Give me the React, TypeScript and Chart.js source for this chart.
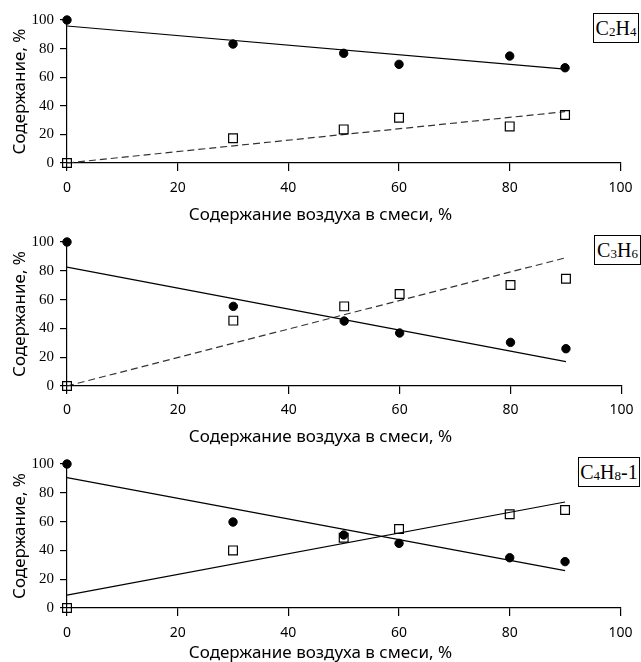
import React, { useEffect, useRef } from "react";
import { Chart, registerables } from "chart.js";

Chart.register(...registerables);

// ---- data ----
const airContent = [0, 30, 50, 60, 80, 90];
const fitX = [0, 90];
const xTickValues = [0, 20, 40, 60, 80, 100];

const c2h4Circles = [100, 83.2, 76.7, 69, 74.8, 66.6];
const c2h4Squares = [0, 17.3, 23.5, 31.7, 25.6, 33.6];
const c2h4FitCircles = [95.8, 65.7];
const c2h4FitSquares = [0, 35.9];

const c3h6Circles = [100, 55.3, 45.1, 36.8, 30.3, 25.9];
const c3h6Squares = [0, 45.4, 55.3, 63.9, 70.1, 74.5];
const c3h6FitCircles = [82.6, 16.9];
const c3h6FitSquares = [0, 89.1];

const c4h8Circles = [100, 59.7, 50.7, 44.9, 34.9, 32.2];
const c4h8Squares = [0, 40.0, 48.8, 54.9, 65.1, 68.1];
const c4h8FitCircles = [90.5, 25.9];
const c4h8FitSquares = [9.0, 73.6];

const xTitle = "Содержание воздуха в смеси, %";
const yTitle = "Содержание, %";

type PanelProps = {
  top: number;
  areaBottom: number;
  titleCenter: number;
  tickPad: number;
  circles: number[];
  squares: number[];
  fitCircles: number[];
  fitSquares: number[];
  dashed: boolean;
};

const CANVAS_W = 641;
const CANVAS_H = 230;

function Panel(p: PanelProps) {
  const ref = useRef<HTMLCanvasElement | null>(null);
  useEffect(() => {
    if (!ref.current) return;
    const titleLH = 17 * 1.2;
    const hx = p.titleCenter - titleLH / 2 - p.areaBottom;
    const padBottom = CANVAS_H - p.titleCenter - titleLH / 2;
    const pts = (xs: number[], ys: number[]) => xs.map((x, i) => ({ x, y: ys[i] }));
    const chart = new Chart(ref.current, {
      type: "scatter",
      data: {
        datasets: [
          {
            data: pts(airContent, p.circles),
            pointStyle: "circle",
            pointRadius: 4.2,
            backgroundColor: "#000",
            borderColor: "#000",
            borderWidth: 1,
            showLine: false,
            order: 0,
            clip: false,
          } as any,
          {
            data: pts(airContent, p.squares),
            pointStyle: "rect",
            pointRadius: 6.2,
            backgroundColor: "rgba(0,0,0,0)",
            borderColor: "#000",
            borderWidth: 1.2,
            showLine: false,
            order: 1,
            clip: false,
          } as any,
          {
            data: pts(fitX, p.fitCircles),
            showLine: true,
            pointRadius: 0,
            borderColor: "#000",
            borderWidth: 1.2,
            order: 2,
            clip: false,
          } as any,
          {
            data: pts(fitX, p.fitSquares),
            showLine: true,
            pointRadius: 0,
            borderColor: p.dashed ? "#333" : "#000",
            borderWidth: 1.2,
            borderDash: p.dashed ? [7, 4] : [],
            order: 2,
            clip: false,
          } as any,
        ],
      },
      options: {
        responsive: false,
        animation: false,
        events: [],
        layout: { padding: { top: 20, left: 19, right: 19, bottom: padBottom } },
        plugins: {
          legend: { display: false },
          tooltip: { enabled: false },
          title: {
            display: true,
            position: "bottom",
            text: xTitle,
            color: "#000",
            font: { family: "Noto Sans", size: 17, weight: "normal" as any, lineHeight: 1.2 },
            padding: { top: 0, bottom: 0 },
          },
        },
        scales: {
          x: {
            type: "linear",
            min: 0,
            max: 100,
            afterBuildTicks: (s: any) => {
              s.ticks = xTickValues.map((v) => ({ value: v }));
            },
            afterFit: (s: any) => {
              s.height = hx;
            },
            grid: { display: true, drawOnChartArea: false, drawTicks: true, tickLength: 8, color: "#000", lineWidth: 1.2 },
            border: { display: true, color: "#000", width: 1.2 },
            ticks: {
              padding: p.tickPad,
              color: "#000",
              font: { family: "Noto Sans", size: 14 },
              maxRotation: 0,
            },
          },
          y: {
            type: "linear",
            min: 0,
            max: 100,
            afterFit: (s: any) => {
              s.width = 48;
            },
            grid: { display: true, drawOnChartArea: false, drawTicks: true, tickLength: 7, color: "#000", lineWidth: 1.2 },
            border: { display: true, color: "#000", width: 1.2 },
            ticks: {
              stepSize: 20,
              padding: 6,
              color: "#000",
              font: { family: "Liberation Serif", size: 15 },
            },
            title: {
              display: true,
              text: yTitle,
              color: "#000",
              font: { family: "Noto Sans", size: 17, weight: "normal" as any, lineHeight: 1.2 },
              padding: { top: -9.2, bottom: 0 },
            },
          },
        },
      } as any,
    });
    return () => chart.destroy();
  }, []);
  return (
    <canvas
      ref={ref}
      width={CANVAS_W}
      height={CANVAS_H}
      style={{ position: "absolute", left: 0, top: p.top, width: CANVAS_W, height: CANVAS_H, display: "block" }}
    />
  );
}

const subStyle: React.CSSProperties = { fontSize: 13, position: "relative", top: 4 };

function Label(props: { left: number; top: number; width: number; parts: (string | [string])[] }) {
  return (
    <div
      style={{
        position: "absolute",
        left: props.left,
        top: props.top,
        width: props.width,
        height: 30,
        boxSizing: "border-box",
        border: "1px solid #000",
        background: "#fff",
        fontFamily: "Liberation Serif",
        fontSize: 20,
        color: "#000",
        display: "flex",
        alignItems: "center",
        justifyContent: "center",
        lineHeight: "20px",
        whiteSpace: "nowrap",
      }}
    >
      {props.parts.map((pt, i) =>
        typeof pt === "string" ? (
          <span key={i}>{pt}</span>
        ) : (
          <span key={i} style={subStyle}>
            {pt[0]}
          </span>
        )
      )}
    </div>
  );
}

export default function App() {
  return (
    <div
      style={{
        position: "absolute",
        left: 0,
        top: 0,
        width: 641,
        height: 662,
        overflow: "hidden",
        background: "#fff",
      }}
    >
      <Panel top={0} areaBottom={163} titleCenter={215} tickPad={8.6}
        circles={c2h4Circles} squares={c2h4Squares} fitCircles={c2h4FitCircles} fitSquares={c2h4FitSquares} dashed={true} />
      <Panel top={222} areaBottom={164} titleCenter={215} tickPad={7.6}
        circles={c3h6Circles} squares={c3h6Squares} fitCircles={c3h6FitCircles} fitSquares={c3h6FitSquares} dashed={true} />
      <Panel top={444} areaBottom={164} titleCenter={209} tickPad={8.6}
        circles={c4h8Circles} squares={c4h8Squares} fitCircles={c4h8FitCircles} fitSquares={c4h8FitSquares} dashed={false} />
      <Label left={593} top={13} width={46} parts={["C", ["2"], "H", ["4"]]} />
      <Label left={594} top={235} width={47} parts={["C", ["3"], "H", ["6"]]} />
      <Label left={578} top={457} width={62} parts={["C", ["4"], "H", ["8"], "-1"]} />
    </div>
  );
}
